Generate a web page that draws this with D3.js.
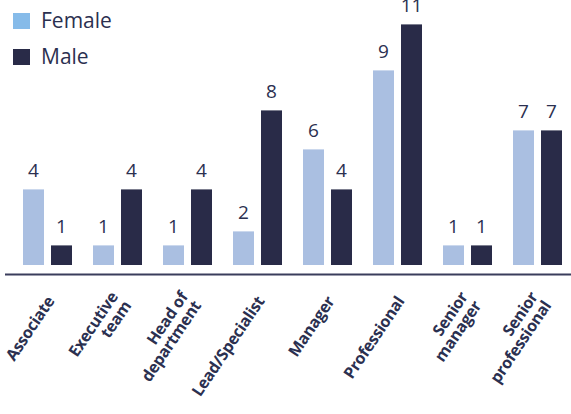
<!DOCTYPE html>
<html>
<head>
<meta charset="utf-8">
<script src="https://cdn.jsdelivr.net/npm/d3@7"></script>
<style>
  body { margin: 0; background: #fff; }
  svg { display: block; font-family: "Open Sans", sans-serif; }
</style>
</head>
<body>
<div id="chart"></div>
<script>
// categories and the counts shown above the bars
var categories = ["Associate", "Executive team", "Head of department", "Lead/Specialist",
    "Manager", "Professional", "Senior manager", "Senior professional"];
var categoryLines = [["Associate"], ["Executive", "team"], ["Head of", "department"], ["Lead/Specialist"],
    ["Manager"], ["Professional"], ["Senior", "manager"], ["Senior", "professional"]];
var femaleCounts = [4, 1, 1, 2, 6, 9, 1, 7];
var maleCounts = [1, 4, 4, 8, 4, 11, 1, 7];
// bar lengths (they are not quite proportional to the counts)
var femaleBars = [3.78, 0.98, 0.98, 1.68, 5.78, 9.73, 0.98, 6.73];
var maleBars = [0.98, 3.78, 3.78, 7.73, 3.78, 12.03, 0.98, 6.73];
var seriesNames = ["Female", "Male"];

var width = 571, height = 414;
var colors = { Female: "#aabfe1", Male: "#292b48" };
var legendColors = { Female: "#86bbe9", Male: "#292b48" };
var textColor = "#2b3050";

var svg = d3.select("#chart").append("svg")
    .attr("width", width)
    .attr("height", height);

var x = d3.scaleBand()
    .domain(categories)
    .range([12.5, 572.5]);

var xSeries = d3.scaleBand()
    .domain(seriesNames)
    .range([10.5, 59.5])
    .paddingInner(0.25);

var y = d3.scaleLinear()
    .domain([0, 12])
    .range([265, 25]);

var rows = categories.map(function (c, i) {
    return [
        { cat: c, series: "Female", bar: femaleBars[i], count: femaleCounts[i] },
        { cat: c, series: "Male", bar: maleBars[i], count: maleCounts[i] }
    ];
});

var group = svg.selectAll(".group")
    .data(rows)
    .enter()
    .append("g")
    .attr("class", "group")
    .attr("transform", function (d) {
        return "translate(" + x(d[0].cat) + ",0)";
    });

group.selectAll("rect")
    .data(function (d) { return d; })
    .enter()
    .append("rect")
    .attr("x", function (d) { return xSeries(d.series); })
    .attr("width", xSeries.bandwidth())
    .attr("y", function (d) { return y(d.bar); })
    .attr("height", function (d) { return y(0) - y(d.bar); })
    .style("fill", function (d) { return colors[d.series]; });

group.selectAll(".value")
    .data(function (d) { return d; })
    .enter()
    .append("text")
    .attr("class", "value")
    .attr("x", function (d) { return xSeries(d.series) + xSeries.bandwidth() / 2; })
    .attr("y", function (d) { return y(d.bar) - 12; })
    .attr("text-anchor", "middle")
    .attr("font-size", 19)
    .attr("fill", textColor)
    .text(function (d) { return d.count; });

// baseline
svg.append("line")
    .attr("x1", 5)
    .attr("x2", width)
    .attr("y1", 274.5)
    .attr("y2", 274.5)
    .attr("stroke", "#3a3d5c")
    .attr("stroke-width", 2);

// rotated category labels
var lineHeight = 16;
svg.selectAll(".cat")
    .data(categories)
    .enter()
    .append("text")
    .attr("class", "cat")
    .attr("transform", function (d) {
        return "translate(" + (x(d) + x.bandwidth() / 2 + 3) + ",298) rotate(-56)";
    })
    .attr("text-anchor", "end")
    .attr("font-size", 16)
    .attr("font-weight", "bold")
    .attr("letter-spacing", -0.3)
    .attr("fill", textColor)
    .each(function (d, i) {
        var lines = categoryLines[i];
        var t = d3.select(this);
        lines.forEach(function (l, j) {
            t.append("tspan")
                .attr("x", 0)
                .attr("y", (j - (lines.length - 1) / 2) * lineHeight)
                .attr("dy", "0.35em")
                .text(l);
        });
    });

// legend
var legend = svg.selectAll(".legend")
    .data(seriesNames)
    .enter()
    .append("g")
    .attr("class", "legend")
    .attr("transform", function (d, i) {
        return "translate(13," + (13 + i * 36) + ")";
    });

legend.append("rect")
    .attr("width", 17)
    .attr("height", 16)
    .style("fill", function (d) { return legendColors[d]; });

legend.append("text")
    .attr("x", 28)
    .attr("y", 15)
    .attr("font-size", 21)
    .attr("fill", textColor)
    .text(function (d) { return d; });
</script>
</body>
</html>
